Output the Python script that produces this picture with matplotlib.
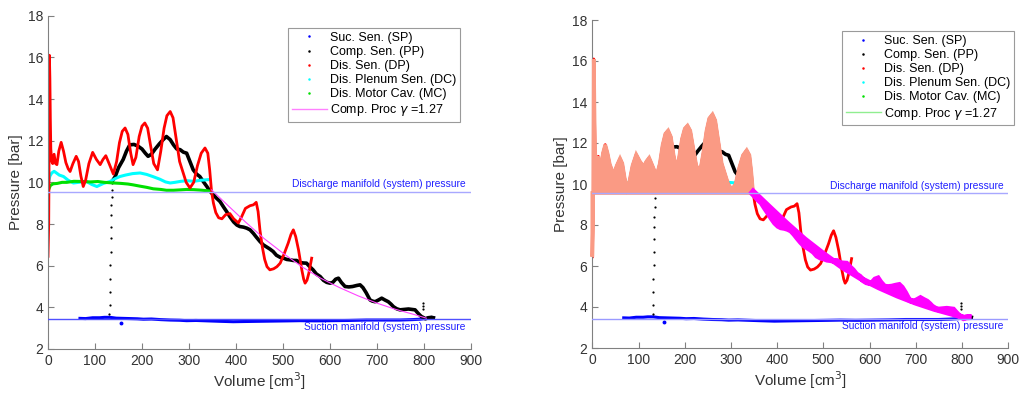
import numpy as np
import matplotlib
matplotlib.use('Agg')
import matplotlib.pyplot as plt
from matplotlib.lines import Line2D

plt.rcParams['font.family'] = ['Liberation Sans', 'DejaVu Sans']

# ---- data (volume cm3, pressure bar) ----
sp_x = [68, 80, 95, 110, 120, 132, 145, 160, 175, 190, 203, 220, 240, 260, 280, 295, 315,
        340, 365, 394, 420, 450, 480, 510, 536, 570, 607, 640, 678, 710, 749, 775, 791, 805, 816, 820]
sp_y = [3.47, 3.46, 3.50, 3.50, 3.52, 3.52, 3.48, 3.47, 3.46, 3.45, 3.43, 3.44, 3.41, 3.39, 3.38, 3.36, 3.37,
        3.35, 3.33, 3.31, 3.32, 3.33, 3.34, 3.35, 3.36, 3.35, 3.36, 3.37, 3.39, 3.39, 3.39, 3.41, 3.43, 3.47, 3.52, 3.50]
sp_out_x = [155]
sp_out_y = [3.26]

pp_jump_x = [130.5, 131, 131.5, 132, 132.5, 133, 133.5, 134, 134.5, 135, 135.5, 136, 137]
pp_jump_y = [3.67, 4.12, 4.73, 5.37, 6.04, 6.68, 7.32, 7.88, 8.41, 8.89, 9.32, 9.64, 9.95]
pp_x = [138, 143, 150, 160, 167, 174, 183, 192, 200, 207, 213, 220, 228, 237, 245, 252, 260, 267,
        274, 281, 288, 295, 302, 309, 316, 323, 330, 338, 345, 352, 358, 366, 374, 380, 387, 395,
        402, 408, 416, 423, 430, 437, 444, 451, 458, 465, 472, 479, 486, 494, 501, 508, 515, 522,
        529, 536, 543, 550, 557, 564, 571, 579, 586, 593, 600, 606, 612, 618, 624, 632, 640, 648,
        657, 664, 670, 677, 685, 690, 696, 703, 710, 717, 724, 730, 735, 742, 749, 758, 767, 774,
        781, 786, 791, 795, 798, 803, 809, 816, 820]
pp_y = [10.10, 10.28, 10.70, 11.10, 11.50, 11.80, 11.82, 11.73, 11.60, 11.40, 11.25, 11.35, 11.60,
        11.85, 12.05, 12.20, 12.05, 11.80, 11.60, 11.57, 11.45, 11.40, 11.00, 10.60, 10.40, 10.28,
        10.05, 9.80, 9.56, 9.40, 9.25, 9.08, 8.80, 8.60, 8.35, 8.10, 7.95, 7.88, 7.85, 7.80, 7.72,
        7.55, 7.35, 7.16, 7.00, 6.90, 6.80, 6.68, 6.50, 6.40, 6.36, 6.30, 6.28, 6.25, 6.25, 6.15,
        6.13, 6.12, 5.95, 5.80, 5.60, 5.48, 5.30, 5.20, 5.16, 5.20, 5.35, 5.40, 5.20, 5.00, 4.98,
        5.00, 5.05, 5.08, 4.95, 4.70, 4.36, 4.30, 4.27, 4.35, 4.44, 4.35, 4.27, 4.15, 4.03, 3.93,
        3.88, 3.90, 3.92, 3.90, 3.88, 3.75, 3.63, 3.55, 3.52, 3.45, 3.50, 3.52, 3.50]
pp_end_x = [797, 797, 797]
pp_end_y = [3.90, 4.05, 4.20]

dp_x = [0, 1.5, 2.0, 2.5, 2.8, 3.0, 4.0, 5.0, 6, 8, 10, 13, 16, 19, 23, 28, 33, 38, 43, 47, 53, 60,
        65, 70, 75, 80, 87, 95, 103, 111, 117, 123, 130, 139, 146, 152, 158, 164, 170, 176, 181,
        187, 194, 200, 206, 212, 218, 225, 233, 240, 247, 253, 260, 266, 272, 280, 287, 294, 302,
        310, 318, 326, 334, 340, 344, 348, 352, 357, 363, 370, 378, 387, 395, 405, 412, 420, 430,
        437, 443, 447, 451, 456, 461, 466, 472, 480, 487, 494, 503, 511, 517, 522, 527, 533, 540,
        544, 547, 551, 555, 558, 561]
dp_y = [6.45, 8.0, 10.0, 12.5, 14.5, 16.1, 15.0, 13.0, 11.6, 11.0, 10.9, 11.35, 10.9, 10.85, 11.5,
        11.92, 11.5, 10.95, 10.65, 10.52, 10.9, 11.25, 11.0, 10.3, 9.8, 10.1, 10.9, 11.44, 11.1,
        10.85, 11.1, 11.28, 10.9, 10.4, 11.0, 11.9, 12.45, 12.61, 12.3, 11.4, 10.85, 11.2, 12.2,
        12.7, 12.85, 12.6, 11.8, 10.9, 10.6, 11.5, 12.6, 13.2, 13.4, 13.1, 12.2, 11.0, 10.5, 10.0,
        9.73, 10.0, 10.8, 11.4, 11.65, 11.4, 10.6, 9.56, 9.0, 8.55, 8.3, 8.25, 8.45, 8.5, 8.25,
        8.05, 8.35, 8.75, 8.88, 8.92, 9.04, 8.6, 7.7, 6.9, 6.3, 5.95, 5.8, 5.85, 5.95, 6.12, 6.6,
        7.08, 7.5, 7.72, 7.4, 6.76, 5.8, 5.35, 5.16, 5.3, 5.64, 6.0, 6.36]

dc_x = [0.7, 4, 8, 13, 18, 24, 33, 43, 54, 65, 82, 93, 104, 118, 132, 143, 153, 165, 180, 196,
        210, 224, 238, 250, 260, 270, 283, 295, 310, 325, 341]
dc_y = [9.97, 10.30, 10.45, 10.53, 10.45, 10.35, 10.28, 10.10, 9.97, 10.00, 10.04, 9.90, 9.80,
        9.95, 10.04, 10.18, 10.28, 10.35, 10.42, 10.45, 10.38, 10.27, 10.15, 10.02, 9.97, 10.00,
        10.05, 10.08, 10.05, 10.10, 10.13]

mc_x = [0.5, 5, 11, 20, 30, 40, 55, 75, 90, 106, 120, 139, 155, 170, 181, 195, 210, 224, 240,
        252, 267, 282, 295, 310, 323, 338, 345]
mc_y = [9.60, 9.85, 9.93, 9.95, 10.00, 10.00, 10.05, 10.04, 10.02, 10.04, 10.00, 9.97, 9.95,
        9.92, 9.88, 9.82, 9.76, 9.69, 9.66, 9.62, 9.62, 9.64, 9.66, 9.65, 9.63, 9.60, 9.58]

poly_x = [348, 380, 420, 460, 500, 540, 580, 620, 660, 700, 740, 780, 805]
poly_y = [9.64, 8.95, 8.10, 7.30, 6.60, 5.95, 5.40, 4.95, 4.55, 4.20, 3.90, 3.65, 3.48]

p_dis = 9.56
p_suc = 3.43
labels = ['Suc. Sen. (SP)', 'Comp. Sen. (PP)', 'Dis. Sen. (DP)', 'Dis. Plenum Sen. (DC)',
          'Dis. Motor Cav. (MC)', 'Comp. Proc $\\gamma$ =1.27']

C_SP, C_PP, C_DP, C_DC, C_MC = '#0000ff', '#000000', '#ff0000', '#00ffff', '#00e000'
GREY = '#808080'
TXT = '#333333'


def draw_data(ax, suc_col):
    ax.plot(sp_x, sp_y, color=C_SP, lw=2.2, zorder=2)
    ax.plot(sp_out_x, sp_out_y, 'o', color=C_SP, ms=1.8, zorder=2)
    ax.plot(pp_jump_x, pp_jump_y, 'o', color=C_PP, ms=1.6, mew=0, zorder=2)
    ax.plot(pp_end_x, pp_end_y, 'o', color=C_PP, ms=1.6, mew=0, zorder=2)
    ax.plot(pp_x, pp_y, color=C_PP, lw=2.6, zorder=2)
    ax.plot(dc_x, dc_y, color=C_DC, lw=2.2, zorder=2)
    ax.plot(mc_x, mc_y, color=C_MC, lw=2.2, zorder=2)
    ax.plot(dp_x, dp_y, color=C_DP, lw=2.0, zorder=2)
    ax.axhline(p_dis, color='#a8a8ff', lw=1.0, zorder=5)
    ax.axhline(p_suc, color=suc_col, lw=1.0, zorder=5)
    ax.text(889, p_dis + 0.12, 'Discharge manifold (system) pressure', color='#2020ff',
            fontsize=7.4, ha='right', va='bottom', zorder=6)
    ax.text(889, p_suc - 0.12, 'Suction manifold (system) pressure', color='#2020ff',
            fontsize=7.4, ha='right', va='top', zorder=6)


def style(ax):
    ax.set_xlim(0, 900)
    ax.set_ylim(2, 18)
    ax.set_xticks(np.arange(0, 901, 100))
    ax.set_yticks(np.arange(2, 19, 2))
    for s in ['top', 'right']:
        ax.spines[s].set_visible(False)
    for s in ['left', 'bottom']:
        ax.spines[s].set_color(GREY)
        ax.spines[s].set_linewidth(0.8)
    ax.tick_params(direction='in', length=4, width=0.8, color=GREY, labelcolor=TXT, labelsize=10)
    ax.set_xlabel('Volume [cm$^3$]', fontsize=11, color=TXT, labelpad=2)
    ax.set_ylabel('Pressure [bar]', fontsize=11, color=TXT, labelpad=3)


def legend(ax, line_col, anchor):
    hs = [Line2D([], [], ls='', marker='o', ms=1.8, mew=0, color=c)
          for c in [C_SP, C_PP, C_DP, C_DC, C_MC]]
    hs.append(Line2D([], [], color=line_col, lw=1.0))
    lg = ax.legend(hs, labels, loc='upper right', bbox_to_anchor=anchor, fontsize=9,
                   frameon=True, fancybox=False, edgecolor='#9a9a9a', framealpha=1,
                   borderpad=0.3, labelspacing=0.17, handlelength=2.8, handletextpad=0.27,
                   borderaxespad=0, numpoints=1)
    lg.get_frame().set_linewidth(0.8)
    lg.set_zorder(10)


fig = plt.figure(figsize=(10.19, 3.94), dpi=100)
ax1 = fig.add_axes([48 / 1019, 1 - 349 / 394, 423 / 1019, 333.3 / 394])
ax2 = fig.add_axes([592.3 / 1019, 1 - 348 / 394, 416 / 1019, 328 / 394])

# left: raw traces
draw_data(ax1, '#5050ff')
ax1.plot(poly_x, poly_y, color='#ff44ff', lw=0.8, zorder=3)
style(ax1)
legend(ax1, '#ff80ff', (0.974, 0.963))

# right: traces with filled work areas
draw_data(ax2, '#9a9aff')
n_dis = dp_x.index(348) + 1
ax2.fill(dp_x[:n_dis] + [348, 0], dp_y[:n_dis] + [p_dis, p_dis],
         facecolor='#fa9a84', edgecolor='#fa9a84', lw=2.6, zorder=3, clip_on=False)
n_pp = pp_x.index(345)
ax2.fill(pp_x[n_pp:] + poly_x[::-1], pp_y[n_pp:] + poly_y[::-1],
         facecolor='#ff00ff', edgecolor='#ff00ff', lw=4.0, zorder=3)
style(ax2)
legend(ax2, '#90ee90', (1.0137, 0.966))

fig.savefig('out.png', dpi=100)
